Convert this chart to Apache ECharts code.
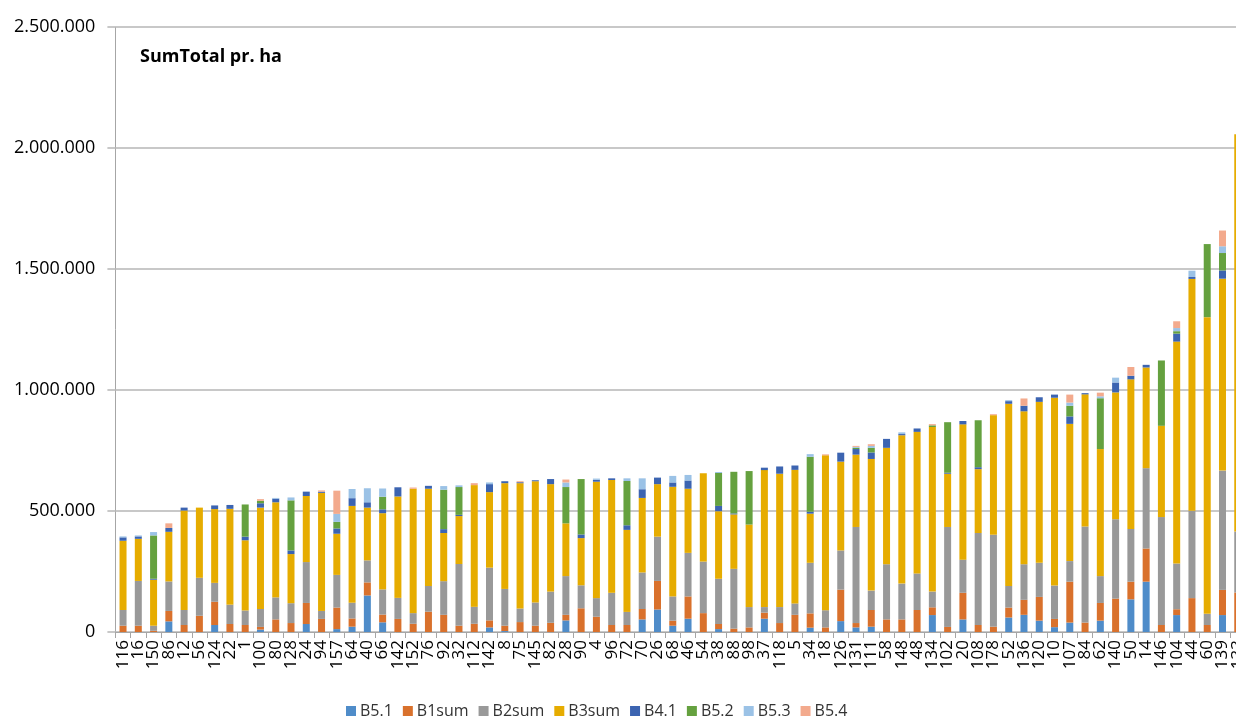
<!DOCTYPE html>
<html>
<head>
<meta charset="utf-8">
<script src="https://cdn.jsdelivr.net/npm/echarts@6/dist/echarts.min.js"></script>
<style>
html,body{margin:0;padding:0;background:#fff;}
#c{width:1236px;height:718px;}
</style>
</head>
<body>
<div id="c"></div>
<script>
const categories = ['116','16','150','86','12','56','124','22','1','100','80','128','24','94','157','64','40','66','142','152','76','92','32','112','142','8','75','145','82','28','90','4','96','72','70','26','68','46','54','38','88','98','37','118','5','34','18','126','131','111','58','148','48','134','102','20','108','178','52','136','120','10','107','84','62','140','50','14','146','104','44','60','139','133'];

// values in thousands
const B5_1 = [0,0,0,44,0,0,29,0,0,10,0,0,33,0,12,22,151,40,0,0,0,0,0,0,19,4,0,0,0,48,0,0,0,0,52,93,26,55,0,12,0,0,55,0,0,18,0,45,19,22,0,0,0,70,0,52,0,0,60,71,47,20,39,0,47,0,135,208,0,70,0,0,70,0];
const B1sum = [26,26,5,43,29,67,96,33,29,11,52,37,87,54,89,34,54,32,54,34,84,71,26,34,29,22,41,26,38,23,98,63,29,29,43,118,21,92,78,21,14,19,25,37,71,59,19,130,18,69,52,52,91,32,21,110,29,22,41,62,98,34,169,39,73,138,73,137,29,24,140,29,104,163];
const B2sum = [65,185,21,122,62,157,78,80,60,74,91,82,169,33,135,65,91,104,87,44,106,139,255,70,218,152,56,96,129,160,95,77,133,54,151,183,100,180,213,187,247,84,23,66,47,209,71,162,397,80,228,148,151,65,413,137,380,380,89,147,141,138,85,397,111,328,218,332,446,189,361,46,493,252];
const B3sum = [286,174,190,205,411,290,305,396,290,419,393,203,273,488,170,400,218,315,419,514,402,199,198,503,312,437,518,501,444,218,195,481,466,339,308,217,453,265,365,279,225,341,566,551,552,203,640,367,299,544,481,613,585,680,220,559,264,494,753,632,665,776,567,546,525,524,618,416,377,917,958,1226,793,1642];
const B4_1 = [14,10,4,16,12,0,15,16,15,18,15,15,18,5,22,32,22,16,38,0,12,16,5,0,33,8,4,4,21,0,15,8,7,19,36,27,18,34,0,22,4,0,10,30,18,8,0,37,23,27,37,5,14,0,4,14,8,0,11,23,19,13,31,5,0,41,15,11,0,33,8,0,34,0];
const B5_2 = [0,0,179,0,0,0,0,0,133,10,0,207,0,0,27,0,0,52,0,0,0,163,115,0,0,0,0,0,0,150,229,0,0,183,0,0,0,0,0,136,172,221,0,0,0,227,0,0,5,19,0,0,0,7,209,0,194,0,0,0,0,0,44,0,210,0,0,0,270,10,0,302,72,0];
const B5_3 = [4,4,14,0,0,0,0,0,0,0,3,12,0,0,33,38,58,34,0,0,0,15,7,0,7,0,0,0,0,19,0,5,0,11,45,0,27,23,0,4,0,0,0,0,0,11,0,0,4,8,0,7,0,0,0,0,0,0,4,0,0,0,13,0,8,20,0,0,0,13,26,0,28,0];
const B5_4 = [0,0,0,19,0,0,0,0,0,7,0,0,0,5,96,0,0,0,0,5,0,0,0,8,0,0,4,0,0,12,0,0,0,0,0,0,0,0,0,0,0,0,0,0,0,0,4,0,4,7,0,0,0,5,0,0,0,4,0,30,0,0,33,0,15,0,36,0,0,28,0,0,65,0];

const yTicks = [0, 500000, 1000000, 1500000, 2000000, 2500000];

const seriesDefs = [
  ['B5.1', B5_1, '#4f8cc9'],
  ['B1sum', B1sum, '#d9712c'],
  ['B2sum', B2sum, '#999999'],
  ['B3sum', B3sum, '#e6ac00'],
  ['B4.1', B4_1, '#3c64b1'],
  ['B5.2', B5_2, '#65a13f'],
  ['B5.3', B5_3, '#9bc2e6'],
  ['B5.4', B5_4, '#f3aa8d']
];

const FONT = 'Open Sans';
const fmt = v => String(v).replace(/\B(?=(\d{3})+(?!\d))/g, '.');

const chart = echarts.init(document.getElementById('c'), null, {renderer: 'canvas'});
chart.setOption({
  animation: false,
  backgroundColor: '#ffffff',
  title: {
    text: 'SumTotal pr. ha',
    left: 135, top: 43,
    textStyle: {fontFamily: FONT, fontSize: 18, fontWeight: 'bold', color: '#000'}
  },
  legend: {
    left: 341, top: 698,
    itemWidth: 10, itemHeight: 10, itemGap: 10,
    icon: 'rect',
    textStyle: {fontFamily: FONT, fontSize: 16, color: '#333', padding: [0,0,0,-1]},
    data: seriesDefs.map(s => s[0])
  },
  grid: {left: 115.4, width: 1130, top: 27, bottom: 86, containLabel: false, outerBoundsMode: 'none'},
  xAxis: {
    type: 'category',
    data: categories,
    axisLine: {lineStyle: {color: '#a6a6a6', width: 1}},
    axisTick: {show: true, length: 6, lineStyle: {color: '#a6a6a6'}},
    axisLabel: {interval: 0, rotate: 90, margin: 8, fontFamily: FONT, fontSize: 17, color: '#000'}
  },
  yAxis: {
    type: 'value',
    min: yTicks[0], max: yTicks[yTicks.length - 1], interval: yTicks[1] - yTicks[0],
    axisLine: {show: true, lineStyle: {color: '#a6a6a6', width: 1}},
    axisTick: {show: true, length: 8, lineStyle: {color: '#c8c8c8', width: 2}},
    splitLine: {lineStyle: {color: '#c8c8c8', width: 2}},
    axisLabel: {margin: 20, fontFamily: FONT, fontSize: 18, color: '#000', formatter: fmt}
  },
  series: seriesDefs.map(s => ({
    name: s[0],
    type: 'bar',
    stack: 'total',
    barWidth: 7,
    itemStyle: {color: s[2]},
    data: s[1].map(v => v * 1000)
  }))
});
</script>
</body>
</html>
